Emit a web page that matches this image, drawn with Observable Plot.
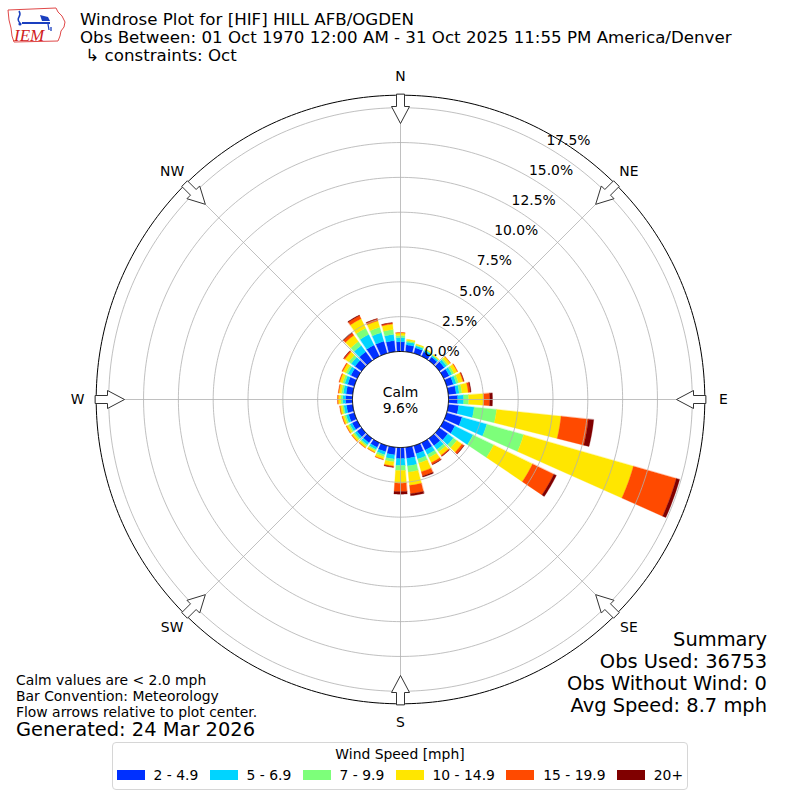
<!DOCTYPE html>
<html>
<head>
<meta charset="utf-8">
<script src="https://cdn.jsdelivr.net/npm/d3@7"></script>
<script src="https://cdn.jsdelivr.net/npm/@observablehq/plot@0.6"></script>
<style>
  body { margin: 0; background: #fff; font-family: "DejaVu Sans", sans-serif; color: #000; }
  #wrap { position: relative; width: 800px; height: 800px; overflow: hidden; background: #fff; }
  #chart { position: absolute; left: 0; top: 0; }
  #logo { position: absolute; left: 0; top: 0; }
  .title { position: absolute; left: 80px; top: 11.3px; font-size: 16.67px; line-height: 18px; white-space: pre; }
  .notes { position: absolute; left: 16px; top: 672px; font-size: 13.9px; line-height: 16px; white-space: pre; }
  .generated { position: absolute; left: 16px; top: 719.4px; font-size: 19.44px; line-height: 22px; white-space: pre; }
  .summary { position: absolute; right: 33px; top: 629px; font-size: 19.44px; line-height: 22px; text-align: right; }
  .summary div { display: flex; justify-content: flex-end; }
  .summary span { white-space: pre; }
  .legend { position: absolute; left: 112px; top: 742px; width: 574px; height: 46px; border: 1px solid #d6d6d6; border-radius: 4px; background: #fff; }
  .legend .lt { position: absolute; left: 0; right: 0; top: 2.5px; text-align: center; font-size: 13.9px; line-height: 16px; }
  .legend .row { position: absolute; left: 0; right: 0; top: 25px; height: 14px; display: flex; justify-content: center; align-items: center; gap: 11.5px; font-size: 13.9px; line-height: 16px; }
  .legend .item { display: flex; align-items: center; gap: 8.7px; }
  .legend .sw { width: 28px; height: 10px; }
</style>
</head>
<body>
<div id="wrap">
  <div id="chart"></div>
  <svg id="logo" width="72" height="50">
    <path d="M8,10 L56,8 L58,12 L62,16 L65,22 L64,27 L61,31 L60,36 L58,41 L14,42 L12,36 L11,28 L9,20 Z" fill="none" stroke="#e04848" stroke-width="1"/>
    <path d="M19,11 q2,3 0,6 q-2,3 1,6" stroke="#1a3fbf" fill="none" stroke-width="1.5"/>
    <line x1="22" y1="23" x2="50" y2="23" stroke="#1a3fbf" stroke-width="2"/>
    <path d="M40,15 l8,2 l2,4 l-8,0 z" fill="#1a3fbf"/>
    <path d="M48,24 l1,6 M51,27 l0,4" stroke="#1a3fbf" stroke-width="1.3" fill="none"/>
    <circle cx="20" cy="24" r="1.6" fill="#1a3fbf"/>
    <text x="14" y="41" font-family="Liberation Serif" font-style="italic" font-size="17" fill="#d02020">IEM</text>
  </svg>
  <div class="title" id="title"></div>
  <div class="notes" id="notes"></div>
  <div class="generated" id="generated"></div>
  <div class="summary" id="summary"></div>
  <div class="legend" id="legend"><div class="lt" id="legendTitle"></div><div class="row" id="legendRow"></div></div>
</div>
<script>
// ---------------- data ----------------
const titleLines = [
  "Windrose Plot for [HIF] HILL AFB/OGDEN",
  "Obs Between: 01 Oct 1970 12:00 AM - 31 Oct 2025 11:55 PM America/Denver",
  " \u21B3 constraints: Oct"
];
const noteLines = ["Calm values are < 2.0 mph", "Bar Convention: Meteorology", "Flow arrows relative to plot center."];
const generatedText = "Generated: 24 Mar 2026";
const summaryLines = ["Summary", "Obs Used: 36753", "Obs Without Wind: 0", "Avg Speed: 8.7 mph"];
const legendTitle = "Wind Speed [mph]";
const calmPct = 9.6;

const directions = [0,10,20,30,40,50,60,70,80,90,100,110,120,130,140,150,160,170,180,190,200,210,220,230,240,250,260,270,280,290,300,310,320,330,340,350];
const speedBins = ["2 - 4.9", "5 - 6.9", "7 - 9.9", "10 - 14.9", "15 - 19.9", "20+"];
const binColors = ["#0030ff", "#00d4ff", "#7dff7a", "#ffe600", "#ff4a00", "#800000"];

// percent of observations per direction for each speed bin
const spd2to5 = [0.70,0.50,0.42,0.38,0.33,0.45,0.45,0.50,0.57,0.66,0.75,1.15,0.90,0.75,0.65,0.60,0.60,0.80,0.80,0.55,0.45,0.38,0.40,0.42,0.42,0.43,0.45,0.50,0.48,0.50,0.52,0.60,0.80,0.90,0.90,0.80];
const spd5to7 = [0.30,0.20,0.14,0.12,0.11,0.20,0.22,0.22,0.22,0.43,1.12,1.85,1.45,0.50,0.35,0.35,0.40,0.55,0.50,0.30,0.22,0.17,0.18,0.18,0.18,0.19,0.19,0.21,0.20,0.22,0.24,0.33,0.55,0.85,0.65,0.45];
const spd7to10 = [0.15,0.10,0.07,0.05,0.05,0.13,0.16,0.17,0.20,0.36,1.62,2.75,1.65,0.30,0.20,0.25,0.30,0.45,0.36,0.20,0.15,0.10,0.11,0.12,0.12,0.12,0.12,0.14,0.14,0.15,0.16,0.22,0.35,0.50,0.40,0.35];
const spd10to15 = [0.18,0.10,0.07,0.05,0.06,0.20,0.26,0.33,0.45,1.08,4.65,8.20,3.10,0.45,0.30,0.40,0.65,0.95,0.90,0.30,0.20,0.13,0.14,0.15,0.15,0.15,0.15,0.18,0.18,0.22,0.24,0.33,0.55,0.75,0.48,0.40];
const spd15to20 = [0.03,0.00,0.00,0.00,0.00,0.02,0.04,0.07,0.16,0.43,1.97,3.20,1.70,0.17,0.08,0.14,0.32,0.60,0.60,0.08,0.04,0.02,0.03,0.03,0.03,0.04,0.04,0.05,0.05,0.06,0.07,0.10,0.20,0.25,0.15,0.09];
const spd20plus = [0.00,0.00,0.00,0.00,0.00,0.00,0.00,0.01,0.05,0.20,0.39,0.25,0.20,0.03,0.02,0.03,0.08,0.15,0.19,0.02,0.00,0.00,0.00,0.00,0.00,0.00,0.00,0.00,0.00,0.00,0.00,0.02,0.05,0.05,0.02,0.01];

const ringValues = [0, 2.5, 5, 7.5, 10, 12.5, 15, 17.5];
const ringLabels = ["0.0%", "2.5%", "5.0%", "7.5%", "10.0%", "12.5%", "15.0%", "17.5%"];
const compassAngles = [0, 45, 90, 135, 180, 225, 270, 315];
const compassLabels = ["N", "NE", "E", "SE", "S", "SW", "W", "NW"];

// ---------------- layout constants ----------------
const PX = 13.93;          // pixels per percent
const R0 = 48 / PX;        // calm circle radius (percent units)
const U = 304.3 / PX;      // outer circle radius
const HALF = 4;            // half bar width in degrees
const rad = d => d * Math.PI / 180;
const P = (b, u) => [u * Math.sin(rad(b)), u * Math.cos(rad(b))];

// ---------------- derived rows ----------------
const series = [spd2to5, spd5to7, spd7to10, spd10to15, spd15to20, spd20plus];
const wedges = [];
directions.forEach((d, i) => {
  let cum = 0;
  series.forEach((arr, j) => {
    const v = arr[i];
    if (!(v > 0)) return;
    const u0 = R0 + cum, u1 = R0 + cum + v;
    cum += v;
    const id = d + "-" + j;
    const n = 10;
    for (let k = 0; k <= n; k++) { const [x, y] = P(d - HALF + 2 * HALF * k / n, u0); wedges.push({id, bin: speedBins[j], x, y}); }
    for (let k = n; k >= 0; k--) { const [x, y] = P(d - HALF + 2 * HALF * k / n, u1); wedges.push({id, bin: speedBins[j], x, y}); }
  });
});

const circle = (u, key) => d3.range(0, 360, 1).map(a => { const [x, y] = P(a, u); return {key, x, y}; });
const rings = ringValues.slice(1).flatMap(v => circle(R0 + v, v));
const calmRing = circle(R0, "calm");
const outerRing = circle(U, "outer");

// arrows (shape in pixels, converted to percent units)
const arrowShape = [[305,-4],[293,-4],[293,-9],[276,0],[293,9],[293,4],[305,4]];
const arrows = compassAngles.flatMap(a => arrowShape.map(([r, o]) => {
  const rr = r / PX, oo = o / PX, t = rad(a);
  return {a, x: rr * Math.sin(t) + oo * Math.cos(t), y: rr * Math.cos(t) - oo * Math.sin(t)};
}));

const LABEL_R = 323 / PX;
const chart = Plot.plot({
  width: 800, height: 800,
  marginLeft: 95.7, marginRight: 95.7, marginTop: 94.7, marginBottom: 96.7,
  x: {domain: [-U, U], axis: null},
  y: {domain: [-U, U], axis: null},
  color: {domain: speedBins, range: binColors},
  style: {fontFamily: "DejaVu Sans", background: "transparent", overflow: "visible", color: "black"},
  marks: [
    Plot.line(wedges, {x: "x", y: "y", z: "id", fill: "bin", stroke: "bin", strokeWidth: 0.3, curve: "linear-closed"}),
    Plot.line(rings, {x: "x", y: "y", z: "key", stroke: "#b0b0b0", strokeWidth: 0.8, curve: "linear-closed"}),
    Plot.link(compassAngles, {x1: 0, y1: 0, x2: a => U * Math.sin(rad(a)), y2: a => U * Math.cos(rad(a)), stroke: "#b0b0b0", strokeWidth: 0.8}),
    Plot.line(calmRing, {x: "x", y: "y", fill: "white", stroke: "black", strokeWidth: 1, curve: "linear-closed"}),
    Plot.line(outerRing, {x: "x", y: "y", stroke: "black", strokeWidth: 1, curve: "linear-closed"}),
    Plot.line(arrows, {x: "x", y: "y", z: "a", fill: "white", stroke: "#333", strokeWidth: 1, curve: "linear-closed", strokeLinejoin: "miter"}),
    Plot.text(compassAngles, {x: a => LABEL_R * Math.sin(rad(a)), y: a => LABEL_R * Math.cos(rad(a)), text: (a, i) => compassLabels[i], fontSize: 13.9, fill: "black"}),
    Plot.text(ringValues, {x: v => (R0 + v) * Math.sin(rad(30)), y: v => (R0 + v) * Math.cos(rad(30)), text: (v, i) => ringLabels[i], textAnchor: "start", lineAnchor: "bottom", dy: -2, fontSize: 13.9, fill: "black"}),
    Plot.text([calmPct], {x: 0, y: 0, text: d => "Calm\n" + d.toFixed(1) + "%", fontSize: 13.9, lineHeight: 1.16, fill: "black"})
  ]
});
document.getElementById("chart").appendChild(chart);

// ---------------- HTML text ----------------
document.getElementById("title").textContent = titleLines.join("\n");
document.getElementById("notes").textContent = noteLines.join("\n");
document.getElementById("generated").textContent = generatedText;
const sumEl = document.getElementById("summary");
summaryLines.forEach(t => {
  const line = document.createElement("div");
  const sp = document.createElement("span"); sp.textContent = t;
  line.appendChild(sp); sumEl.appendChild(line);
});
document.getElementById("legendTitle").textContent = legendTitle;
const row = document.getElementById("legendRow");
speedBins.forEach((b, i) => {
  const item = document.createElement("div"); item.className = "item";
  const sw = document.createElement("div"); sw.className = "sw"; sw.style.background = binColors[i];
  const lb = document.createElement("span"); lb.textContent = b;
  item.appendChild(sw); item.appendChild(lb); row.appendChild(item);
});
</script>
</body>
</html>
